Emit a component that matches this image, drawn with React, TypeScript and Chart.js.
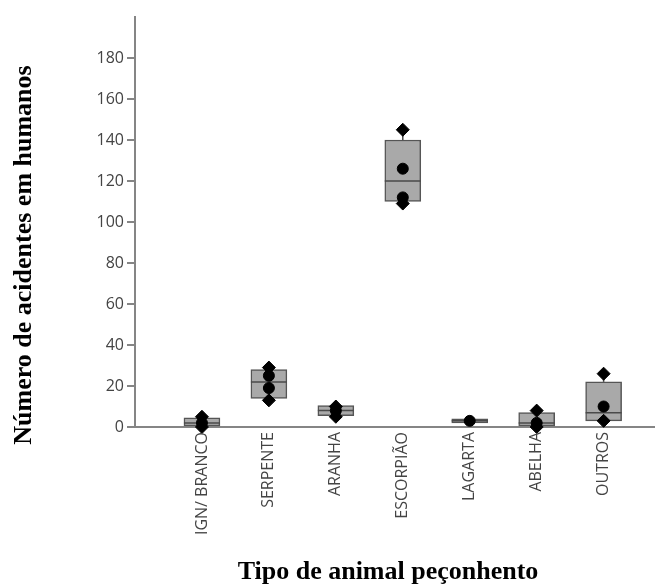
import React, { useEffect, useRef } from 'react';
import { Chart, registerables } from 'chart.js';

Chart.register(...registerables);

const categories = ['IGN/ BRANCO', 'SERPENTE', 'ARANHA', 'ESCORPIÃO', 'LAGARTA', 'ABELHA', 'OUTROS'];
const q1Values = [0.5, 14, 5.5, 110, 2, 0.5, 3];
const medianValues = [2, 22, 8, 120, 3, 2, 7];
const q3Values = [4.5, 28, 10.5, 140, 4, 7, 22];
const whiskerLow = [0, 13, 5, 109, 2, 0, 3];
const whiskerHigh = [5, 29, 11, 145, 4, 8, 26];
const observations = [
  [0, 2, 5],
  [13, 19, 25, 29],
  [5, 8, 10],
  [109, 112, 126, 145],
  [3],
  [0, 2, 8],
  [3, 10, 26],
];
const yTickValues = [0, 20, 40, 60, 80, 100, 120, 140, 160, 180];
const yTitle = 'Número de acidentes em humanos';
const xTitle = 'Tipo de animal peçonhento';

const AXIS_COLOR = '#858585';

export default function App() {
  const ref = useRef<HTMLCanvasElement | null>(null);

  useEffect(() => {
    const canvas = ref.current;
    if (!canvas) return;

    const boxData = categories.map((_, i) => ({ x: i, y: [q1Values[i], q3Values[i]] }));
    const pointData: { x: number; y: number; ext: boolean }[] = [];
    observations.forEach((obs, i) => {
      const mn = Math.min(...obs);
      const mx = Math.max(...obs);
      obs.forEach((v) => pointData.push({ x: i, y: v, ext: obs.length > 1 && (v === mn || v === mx) }));
    });

    const boxExtras = {
      id: 'boxExtras',
      afterDatasetDraw(chart: any, args: any) {
        if (args.index !== 0) return;
        const ctx = chart.ctx;
        const xs = chart.scales.x;
        const ys = chart.scales.y;
        const meta = chart.getDatasetMeta(0);
        ctx.save();
        ctx.strokeStyle = '#4a4a4a';
        ctx.lineWidth = 1.5;
        categories.forEach((_, i) => {
          const el = meta.data[i];
          const cx = xs.getPixelForValue(i);
          const half = el.width / 2;
          ctx.beginPath();
          ctx.moveTo(cx, ys.getPixelForValue(q3Values[i]));
          ctx.lineTo(cx, ys.getPixelForValue(whiskerHigh[i]));
          ctx.moveTo(cx, ys.getPixelForValue(q1Values[i]));
          ctx.lineTo(cx, ys.getPixelForValue(whiskerLow[i]));
          ctx.stroke();
          const my = ys.getPixelForValue(medianValues[i]);
          ctx.beginPath();
          ctx.moveTo(cx - half, my);
          ctx.lineTo(cx + half, my);
          ctx.stroke();
        });
        ctx.restore();
      },
      afterDraw(chart: any) {
        const ctx = chart.ctx;
        const xs = chart.scales.x;
        const area = chart.chartArea;
        ctx.save();
        ctx.beginPath();
        ctx.rect(0, area.bottom, chart.width, 534 - area.bottom);
        ctx.clip();
        ctx.fillStyle = '#444444';
        ctx.font = '16px "Open Sans"';
        ctx.textAlign = 'right';
        ctx.textBaseline = 'middle';
        categories.forEach((c, i) => {
          const cx = xs.getPixelForValue(i);
          ctx.save();
          ctx.translate(cx, area.bottom + 5);
          ctx.rotate(-Math.PI / 2);
          ctx.fillText(c, 0, 0);
          ctx.restore();
        });
        ctx.restore();

        ctx.save();
        ctx.fillStyle = '#000000';
        ctx.font = 'bold 26px "Liberation Serif", "Times New Roman", serif';
        ctx.textAlign = 'center';
        ctx.textBaseline = 'alphabetic';
        ctx.fillText(xTitle, 388, 579);
        ctx.translate(31, 255);
        ctx.rotate(-Math.PI / 2);
        ctx.fillText(yTitle, 0, 0);
        ctx.restore();
      },
    };

    const chart = new Chart(canvas, {
      type: 'bar',
      data: {
        datasets: [
          {
            type: 'bar',
            data: boxData as any,
            backgroundColor: '#a9a9a9',
            borderColor: '#555555',
            borderWidth: 1.5,
            borderSkipped: false,
            barThickness: 36,
            order: 2,
            clip: false as any,
          },
          {
            type: 'scatter',
            data: pointData as any,
            backgroundColor: '#000000',
            borderColor: '#000000',
            pointStyle: (ctx: any) => (ctx.raw && ctx.raw.ext ? 'rectRot' : 'circle'),
            pointRadius: (ctx: any) => (ctx.raw && ctx.raw.ext ? 6.5 : 5.5),
            order: 1,
            clip: false as any,
          },
        ],
      },
      options: {
        responsive: false,
        animation: false,
        layout: { padding: { left: 0, top: 17, right: 0, bottom: 0 } },
        plugins: { legend: { display: false }, tooltip: { enabled: false } },
        scales: {
          x: {
            type: 'linear',
            min: -1,
            max: 6.76,
            offset: false,
            grid: { display: false },
            ticks: { display: false },
            border: { display: true, color: AXIS_COLOR, width: 2 },
            afterFit: (s: any) => {
              s.height = 157;
            },
          },
          y: {
            type: 'linear',
            min: 0,
            max: 200,
            afterBuildTicks: (s: any) => {
              s.ticks = yTickValues.map((v) => ({ value: v }));
            },
            grid: {
              display: true,
              drawOnChartArea: false,
              drawTicks: true,
              tickLength: 8,
              color: AXIS_COLOR,
              lineWidth: 2,
            },
            border: { display: true, color: AXIS_COLOR, width: 2 },
            ticks: {
              padding: 3,
              color: '#444444',
              font: { family: '"Open Sans"', size: 16 },
            },
            afterFit: (s: any) => {
              s.width = 135;
            },
          },
        },
      },
      plugins: [boxExtras],
    });

    return () => chart.destroy();
  }, []);

  return (
    <div style={{ position: 'absolute', left: 0, top: 0, width: 662, height: 584, background: '#ffffff' }}>
      <canvas ref={ref} width={662} height={584} style={{ display: 'block' }} />
    </div>
  );
}
